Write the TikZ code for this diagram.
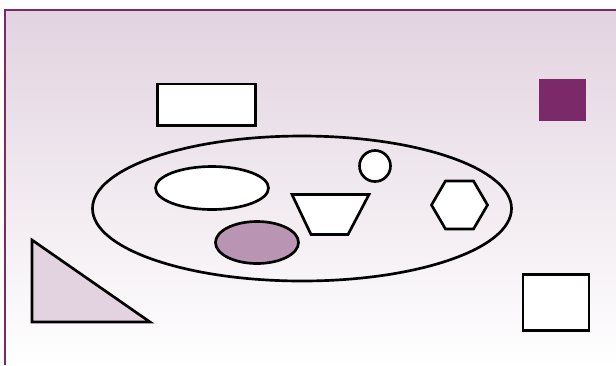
\documentclass[tikz,border=0pt]{standalone}
\definecolor{darkplum}{RGB}{124,41,106}
\definecolor{midplum}{RGB}{185,148,179}
\definecolor{lightplum}{RGB}{227,211,225}
\definecolor{bgtop}{RGB}{226,211,224}
\begin{document}
\begin{tikzpicture}[x=0.75pt,y=-0.75pt,
  shp/.style={draw=black, line width=2pt, fill=white, line join=miter}]
\useasboundingbox (0,0) rectangle (616,365);
% background panel
\fill[top color=bgtop, bottom color=white] (5,10) rectangle (616,365);
\draw[darkplum, line width=1.4pt] (5,365) -- (5,10) -- (616,10);
% top rectangle
\draw[shp] (157.2,84) rectangle (255.3,125.3);
% dark square
\fill[darkplum] (539,79) rectangle (586,121);
% big ellipse
\draw[shp, fill=none] (302,208.5) ellipse [x radius=209.5, y radius=72.5];
% white ellipse
\draw[shp] (212,188) ellipse [x radius=56.5, y radius=21.5];
% small circle
\draw[shp] (375,166) ellipse [x radius=15.5, y radius=15.5];
% trapezoid
\draw[shp] (292,194.5) -- (369,194.5) -- (348,234.5) -- (311,234.5) -- cycle;
% hexagon
\draw[shp] (431.5,205) -- (445.5,181) -- (473.5,181) -- (487.5,205) -- (473.5,229) -- (445.5,229) -- cycle;
% purple ellipse
\draw[shp, fill=midplum] (257,242.5) ellipse [x radius=41.5, y radius=21];
% triangle
\draw[shp, fill=lightplum] (32,240) -- (32,322) -- (150,322) -- cycle;
% bottom square
\draw[shp] (523,274.5) rectangle (589,330.5);
\end{tikzpicture}
\end{document}
